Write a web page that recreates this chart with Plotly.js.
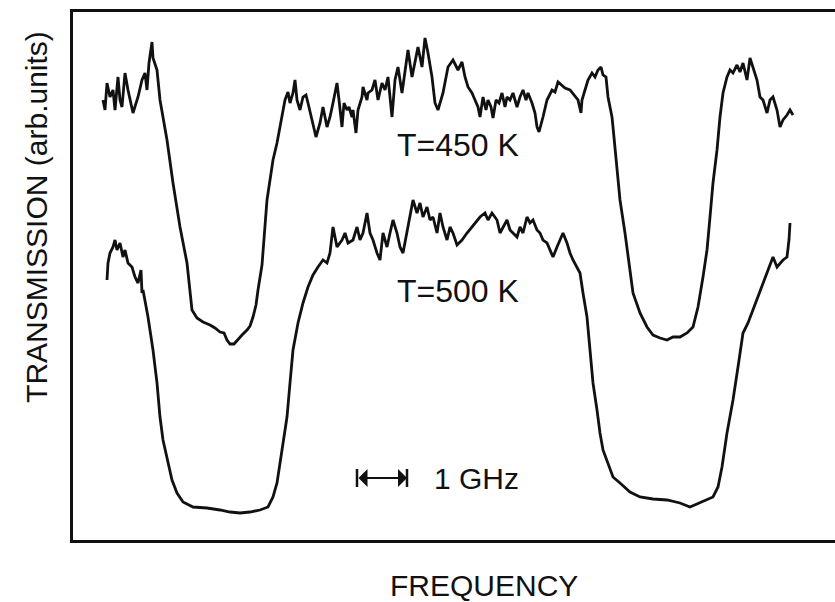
<!DOCTYPE html>
<html>
<head>
<meta charset="utf-8">
<script src="https://cdn.plot.ly/plotly-3.0.1.min.js"></script>
<style>html,body{margin:0;padding:0;background:#fff;}#chart{width:835px;height:602px;}</style>
</head>
<body>
<div id="chart"></div>
<script>
// Frequency in GHz (relative), transmission in arbitrary units
var freq450 = [0.60,0.64,0.68,0.74,0.80,0.84,0.90,0.94,0.98,1.04,1.10,1.20,1.30,1.38,1.44,1.48,1.52,1.58,1.60,1.68,1.74,1.88,2.00,2.14,2.28,2.38,2.48,2.60,2.74,2.84,2.94,3.02,3.08,3.14,3.22,3.30,3.38,3.48,3.54,3.60,3.66,3.70,3.78,3.88,4.00,4.08,4.18,4.24,4.30,4.34,4.40,4.44,4.48,4.54,4.60,4.66,4.70,4.78,4.86,4.94,5.00,5.08,5.14,5.20,5.28,5.32,5.38,5.42,5.48,5.52,5.58,5.60,5.66,5.70,5.78,5.80,5.88,5.90,5.98,6.04,6.10,6.18,6.24,6.30,6.38,6.44,6.50,6.58,6.64,6.70,6.78,6.84,6.90,6.98,7.04,7.10,7.18,7.24,7.30,7.40,7.50,7.60,7.70,7.78,7.84,7.90,7.98,8.04,8.10,8.14,8.20,8.26,8.30,8.36,8.40,8.46,8.52,8.58,8.64,8.68,8.74,8.80,8.88,8.94,9.00,9.06,9.10,9.18,9.24,9.28,9.32,9.40,9.48,9.58,9.64,9.70,9.78,9.84,9.94,10.04,10.10,10.16,10.18,10.24,10.30,10.38,10.44,10.50,10.56,10.60,10.66,10.70,10.78,10.80,10.88,10.94,11.04,11.14,11.20,11.34,11.48,11.60,11.74,11.88,12.00,12.14,12.28,12.40,12.50,12.60,12.68,12.74,12.80,12.88,12.94,13.00,13.08,13.14,13.20,13.28,13.34,13.40,13.48,13.54,13.60,13.68,13.74,13.80,13.88,13.94,14.00,14.08,14.14,14.20,14.28,14.34,14.40];
var trans450 = [88.0,86.0,91.4,88.6,90.0,86.0,92.6,88.0,86.6,93.4,90.0,85.4,88.6,92.0,93.4,90.0,95.4,99.6,96.4,94.0,88.0,80.0,71.4,62.6,55.4,46.0,44.4,43.6,43.0,42.4,41.6,41.4,40.0,39.2,39.2,40.2,41.0,42.0,42.8,44.6,47.0,50.0,55.0,68.0,76.0,79.4,84.6,88.0,89.6,87.4,89.4,92.0,88.0,86.0,88.6,89.0,87.4,84.0,80.6,83.4,86.6,82.6,84.6,87.4,91.4,88.0,82.6,87.4,86.0,86.6,84.6,86.0,81.4,86.0,88.6,90.6,88.0,89.4,90.0,92.0,88.0,91.4,90.0,92.6,84.6,92.0,94.6,89.4,93.4,98.0,92.6,96.0,98.6,94.6,100.4,97.4,92.6,87.4,86.0,89.4,94.6,96.0,94.0,95.6,92.6,90.6,89.4,88.0,86.6,84.6,88.6,86.0,88.0,86.6,84.4,88.0,87.4,89.4,86.6,88.6,88.0,89.4,86.6,88.6,90.0,88.0,89.4,87.4,85.4,82.6,81.6,84.6,88.0,90.0,89.6,91.6,91.0,90.4,90.0,88.6,88.0,85.4,88.0,90.0,92.0,93.4,92.6,94.0,94.6,93.0,92.6,88.6,84.6,82.6,74.6,68.0,61.4,54.0,49.4,45.4,42.6,41.0,40.4,40.0,40.6,40.6,41.4,42.6,46.6,52.6,58.0,64.6,71.4,78.0,84.6,89.4,92.6,94.0,93.4,95.0,93.6,95.4,92.0,96.4,94.6,92.0,88.6,88.0,85.4,88.0,88.6,86.0,82.6,84.0,85.0,86.0,85.0];

var freq500 = [0.68,0.70,0.74,0.80,0.84,0.88,0.94,1.00,1.04,1.10,1.18,1.24,1.30,1.36,1.38,1.40,1.50,1.60,1.68,1.74,1.80,1.88,1.98,2.08,2.20,2.40,2.68,2.94,3.14,3.34,3.54,3.74,3.90,4.00,4.08,4.18,4.28,4.34,4.40,4.50,4.60,4.70,4.80,4.90,5.00,5.08,5.14,5.20,5.28,5.38,5.44,5.50,5.60,5.68,5.74,5.80,5.88,5.94,6.00,6.08,6.14,6.20,6.28,6.34,6.40,6.48,6.54,6.60,6.68,6.74,6.80,6.88,6.94,7.00,7.08,7.14,7.20,7.28,7.34,7.40,7.48,7.54,7.60,7.68,7.78,7.88,7.98,8.08,8.14,8.24,8.30,8.38,8.48,8.54,8.60,8.68,8.74,8.80,8.88,8.94,9.00,9.08,9.14,9.20,9.28,9.34,9.40,9.48,9.54,9.60,9.68,9.74,9.80,9.88,9.94,10.00,10.08,10.14,10.20,10.28,10.34,10.40,10.48,10.54,10.60,10.68,10.80,10.94,11.14,11.34,11.60,11.88,12.14,12.34,12.54,12.80,12.90,12.98,13.08,13.20,13.30,13.40,13.50,13.60,13.70,13.80,13.90,14.00,14.08,14.14,14.20,14.28,14.32,14.34];
var trans500 = [52.0,55.4,57.4,58.6,60.0,58.0,59.4,56.6,58.0,55.4,54.6,52.6,51.4,54.0,49.4,50.0,44.6,38.0,31.4,24.6,20.0,16.6,12.0,9.4,7.6,6.6,6.4,6.0,5.6,5.4,5.6,6.0,6.6,8.6,11.4,18.0,24.6,31.4,38.0,43.4,47.4,50.6,53.0,54.6,56.0,55.4,57.4,62.6,58.6,60.0,61.4,59.4,60.0,62.6,60.0,61.4,65.4,61.4,60.0,57.4,56.0,61.4,58.6,61.4,64.0,61.4,58.6,57.4,61.4,64.6,68.0,65.4,67.4,64.6,66.6,64.0,64.6,61.4,65.4,62.6,60.0,62.6,61.4,59.0,60.0,61.4,62.6,64.0,64.6,65.4,64.0,65.4,64.0,61.4,62.6,64.0,62.0,61.4,60.6,62.6,61.4,64.6,63.4,64.0,62.0,61.4,60.0,59.4,58.0,56.6,58.6,60.0,61.4,59.4,57.4,56.0,54.6,53.4,49.4,44.6,38.0,31.4,26.0,21.4,18.0,16.0,12.6,11.4,9.6,8.6,8.2,8.0,7.4,6.6,7.4,8.6,10.6,14.6,21.4,28.0,34.6,41.4,43.4,46.0,48.6,51.4,54.0,56.6,54.6,55.4,56.0,56.6,60.0,63.4];

var labels = ["T=450 K", "T=500 K"];
var labelPos = [[6.44, 79.0], [6.44, 49.8]];
var scaleBarStart = 5.68, scaleBarGHz = 1, scaleBarY = 12.4;
var scaleLabel = "1 GHz";
var xTitle = "FREQUENCY";
var yTitle = "TRANSMISSION (arb.units)";

var font = "Liberation Sans, Arial, sans-serif";
var ink = "#111111";

var traces = [
  {x: freq450, y: trans450, mode: "lines", type: "scatter", line: {color: ink, width: 2.8}, hoverinfo: "skip"},
  {x: freq500, y: trans500, mode: "lines", type: "scatter", line: {color: ink, width: 2.8}, hoverinfo: "skip"}
];

var x1 = scaleBarStart + scaleBarGHz;
var annotations = [
  {x: labelPos[0][0], y: labelPos[0][1], xref: "x", yref: "y", text: labels[0], showarrow: false, xanchor: "left", yanchor: "middle", font: {family: font, size: 32, color: ink}},
  {x: labelPos[1][0], y: labelPos[1][1], xref: "x", yref: "y", text: labels[1], showarrow: false, xanchor: "left", yanchor: "middle", font: {family: font, size: 32, color: ink}},
  {x: x1 + 0.5, y: scaleBarY, xref: "x", yref: "y", text: scaleLabel, showarrow: false, xanchor: "left", yanchor: "middle", font: {family: font, size: 30, color: ink}},
  {x: x1, y: scaleBarY, ax: scaleBarStart, ay: scaleBarY, xref: "x", yref: "y", axref: "x", ayref: "y", text: "", showarrow: true, arrowside: "end+start", arrowhead: 1, arrowsize: 1.5, arrowwidth: 2, arrowcolor: ink, standoff: 0, startstandoff: 0},
  {x: 0.539, y: -0.087, xref: "paper", yref: "paper", text: xTitle, showarrow: false, xanchor: "center", yanchor: "middle", font: {family: font, size: 30, color: ink}},
  {x: -0.0472, y: 0.612, xref: "paper", yref: "paper", text: yTitle, showarrow: false, textangle: -90, xanchor: "center", yanchor: "middle", font: {family: font, size: 30, color: ink}}
];

var shapes = [
  {type: "line", xref: "x", yref: "y", x0: scaleBarStart, x1: scaleBarStart, y0: scaleBarY - 1.8, y1: scaleBarY + 1.8, line: {color: ink, width: 2.5}},
  {type: "line", xref: "x", yref: "y", x0: x1, x1: x1, y0: scaleBarY - 1.8, y1: scaleBarY + 1.8, line: {color: ink, width: 2.5}}
];

var layout = {
  width: 835, height: 602,
  margin: {l: 73, r: 0, t: 12, b: 62},
  paper_bgcolor: "#ffffff", plot_bgcolor: "#ffffff",
  showlegend: false,
  xaxis: {range: [0, 15.24], showgrid: false, zeroline: false, showticklabels: false, ticks: "", showline: true, mirror: true, linecolor: ink, linewidth: 2.8},
  yaxis: {range: [0, 105.6], showgrid: false, zeroline: false, showticklabels: false, ticks: "", showline: true, mirror: false, linecolor: ink, linewidth: 2.8},
  annotations: annotations,
  shapes: shapes
};

Plotly.newPlot("chart", traces, layout, {staticPlot: true, displayModeBar: false});
</script>
</body>
</html>
